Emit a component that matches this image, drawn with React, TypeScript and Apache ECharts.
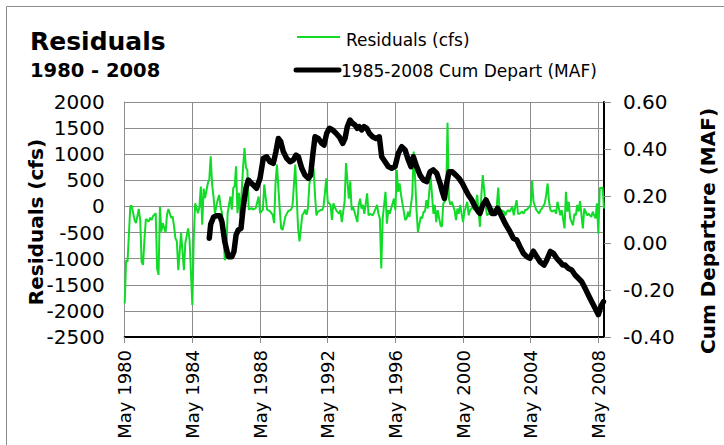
import React, { useEffect, useRef } from "react";
import * as echarts from "echarts";

// Months counted from May 1980 (0 = May 1980)
const xTickMonths = [0, 48, 96, 144, 192, 240, 288, 336];
const xTickLabels = ["May 1980", "May 1984", "May 1988", "May 1992", "May 1996", "May 2000", "May 2004", "May 2008"];

// Residuals (cfs): [month, value]
const residuals: [number, number][] = [
  [0,-1860],[1,-1030],[2,-1060],[4,10],[5,10],[7,-260],[8,-320],[10,-50],[11,-260],[12,-1060],[13,-1120],[14,-640],[15,-240],[17,-290],[18,-220],[19,-260],[20,-190],[22,-130],[23,-1190],[24,-1310],[25,-10],[26,-480],[27,-320],[29,-500],[30,-160],[31,-50],[33,-220],[34,-190],[35,-380],[36,-610],[37,-670],[38,-1220],[40,-510],[42,-1220],[43,-700],[45,-420],[46,-640],[48,-1890],[49,-580],[50,60],[52,-130],[53,-10],[54,380],[55,-350],[56,340],[57,160],[59,450],[60,510],[61,960],[62,420],[63,190],[64,-130],[66,130],[67,220],
  [68,0],[69,-130],[70,-450],[71,-1030],[72,-960],[73,-130],[75,190],[76,-60],[77,350],[78,385],[79,770],[80,-130],[81,260],[82,-190],[84,770],[85,1120],[86,740],[87,700],[88,-60],[90,-30],[91,-60],[93,-30],[95,190],[96,-130],[98,-60],[99,420],[101,-60],[103,-90],[105,-160],[106,-320],[107,450],[108,800],[110,-60],[111,-420],[112,-450],[114,-190],[116,-90],[118,-60],[119,0],[121,800],[122,190],[123,-420],[124,-670],[126,-160],[127,-130],[128,-60],[129,-160],[130,-30],[131,420],[132,580],[134,720],
  [135,220],[136,-170],[137,-100],[139,-70],[140,-70],[141,-10],[142,250],[143,540],[144,90],[146,30],[147,-260],[148,60],[149,-10],[150,-70],[152,-140],[153,-70],[154,-300],[155,-100],[156,90],[157,830],[159,150],[160,480],[161,-70],[162,-10],[163,-100],[165,-300],[166,30],[167,150],[168,-40],[169,30],[170,-140],[172,250],[173,-170],[174,-140],[176,-170],[178,-40],[179,30],[180,-140],[181,-230],[182,-1190],[183,-230],[185,280],[186,-330],[187,-70],[188,-140],[189,-40],[191,150],[192,-70],[193,700],[194,280],[195,440],[196,220],[198,-100],[199,-260],[200,-230],[201,-100],[202,-200],[204,220],[205,1050],[206,540],[207,-70],[208,-490],[210,-200],[211,-230],[212,-100],[213,-100],[214,120],[215,-40],[217,570],[219,-140],[220,30],
  [221,-300],[222,-70],[224,-360],[225,-390],[226,60],[227,90],[228,150],[229,1600],[230,150],[231,30],[232,90],[234,-70],[235,-260],[236,-40],[237,-140],[238,30],[240,-300],[241,-100],[242,-10],[243,90],[244,-170],[245,-70],[247,-10],[248,-70],[249,30],[250,220],[251,-70],[252,-390],[253,220],[254,600],[256,30],[257,-170],[258,-140],[259,-140],[260,-70],[262,-40],[263,-100],[264,30],[265,360],[266,-140],[267,-70],[269,-100],[270,-170],[271,-100],[272,-70],[273,-100],[275,-10],[276,-170],[277,-10],[278,120],[279,-140],[280,-140],[282,-100],[283,-140],[284,-70],[285,-70],[286,-40],[288,30],[289,490],[290,90],[292,-70],[293,-100],[294,-140],[295,-70],[296,-40],[298,60],[299,220],[300,440],[301,90],[302,-70],[303,-100],[305,-70],[306,-140],[307,90],[308,-40],[309,-170],[310,-70],[312,-420],[313,280],[314,-100],[315,90],[316,-230],[318,-360],[319,-140],[320,-170],[321,30],[322,-100],[323,100],[325,-420],[326,-40],[327,-100],[328,-170],[329,-140],[331,-200],[332,-100],[333,-170],[334,-230],[335,60],[336,-520],[337,350],[339,360],[340,-40]
];

// 1985-2008 Cum Depart (MAF): [month, value]
const cumDepart: [number, number][] = [
  [60,0.02],[61,0.08],[63,0.11],[65,0.116],[67.5,0.116],[69,0.09],[71,0.005],[73.5,-0.058],[76,-0.058],[77.5,-0.037],[79,0.034],[80.5,0.055],[82.5,0.062],[84,0.148],[86,0.233],[87.7,0.268],[90,0.254],[93.5,0.233],[96,0.275],[98.3,0.36],[100.7,0.367],[103,0.346],[105.4,0.339],[107.3,0.389],[109,0.445],[110.7,0.431],[112.5,0.389],[114.9,0.36],[117.3,0.346],[119.6,0.353],[121.5,0.374],[123.2,0.367],[125.6,0.318],[127.9,0.289],[130.3,0.275],[131.9,0.289],[133.4,0.374],[135,0.452],[137.3,0.445],[139.8,0.424],[141.4,0.417],[143.3,0.467],[145.2,0.488],[147.5,0.481],[149.9,0.467],[152.2,0.452],[154.7,0.424],[156.3,0.445],[157.9,0.495],[159.8,0.523],[161.7,0.509],[163.4,0.502],[165,0.488],[166.4,0.495],[168.1,0.481],[169.8,0.495],[171.7,0.488],[173.5,0.467],[175.9,0.452],[178.3,0.445],[180.6,0.452],[182.3,0.367],[184.7,0.346],[187,0.325],[189.4,0.318],[191.8,0.325],[194.1,0.382],[196.5,0.41],[198.9,0.396],[201.2,0.353],[203.1,0.325],[204.8,0.367],[207.1,0.325],[209.5,0.289],[211.9,0.268],[214.2,0.261],[216.6,0.303],[218.9,0.311],[221.3,0.297],[223.7,0.254],[225.3,0.218],[226.8,0.19],[228.4,0.254],[230.1,0.303],[232.4,0.303],[234.8,0.289],[237.2,0.275],[239.5,0.254],[241.9,0.226],[243.8,0.204],[246.2,0.183],[248.5,0.155],[250.9,0.133],[252,0.126],[254,0.162],[256.3,0.183],[258.5,0.155],[260.5,0.126],[262.7,0.126],[264.5,0.148],[267,0.119],[269.8,0.084],[273.3,0.048],[275.7,0.02],[278.1,0.013],[280.4,-0.016],[282.8,-0.044],[285.2,-0.058],[287.5,-0.065],[289.9,-0.035],[292.3,-0.058],[294.6,-0.08],[297.5,-0.094],[299.4,-0.072],[302,-0.036],[304.1,-0.044],[306.5,-0.065],[308.8,-0.08],[310.7,-0.094],[312.4,-0.094],[314.7,-0.108],[317.1,-0.115],[319.5,-0.136],[321.8,-0.15],[324.2,-0.165],[326.6,-0.193],[328.9,-0.221],[331.3,-0.25],[333.7,-0.278],[336,-0.305],[337.7,-0.271],[339.6,-0.25]
];

const FONT = "DejaVu Sans";
const GRID = "#8c8c8c";
const GREEN = "#10dc28";

export default function App() {
  const ref = useRef<HTMLDivElement>(null);
  useEffect(() => {
    if (!ref.current) return;
    const chart = echarts.init(ref.current, null, { renderer: "svg" });
    const option: any = {
      animation: false,
      textStyle: { fontFamily: FONT },
      grid: { left: 124.7, right: 120, top: 102, bottom: 108 },
      xAxis: {
        type: "value",
        min: 0,
        max: 340,
        interval: 48,
        axisLine: { show: true, onZero: false, lineStyle: { color: "#000", width: 2 } },
        axisTick: { show: true, length: 6, customValues: xTickMonths, lineStyle: { color: GRID } },
        axisLabel: {
          customValues: xTickMonths,
          rotate: 90,
          margin: 13,
          fontSize: 18,
          fontFamily: FONT,
          color: "#000",
          formatter: (v: number) => {
            const i = xTickMonths.indexOf(Math.round(v));
            return i >= 0 ? xTickLabels[i] : "";
          },
        },
        splitLine: { show: true, lineStyle: { color: GRID, width: 1 } },
      },
      yAxis: [
        {
          type: "value",
          min: -2500,
          max: 2000,
          interval: 500,
          axisLine: { show: true, lineStyle: { color: GRID, width: 1 } },
          axisTick: { show: false },
          axisLabel: {
            fontSize: 20,
            fontFamily: FONT,
            color: "#000",
            margin: 20,
            formatter: (v: number) => String(Math.round(v)),
          },
          splitLine: { show: true, lineStyle: { color: GRID, width: 1 } },
        },
        {
          type: "value",
          position: "right",
          min: -0.4,
          max: 0.6,
          interval: 0.2,
          axisLine: { show: true, lineStyle: { color: "#000", width: 2 } },
          axisTick: { show: true, length: 7, lineStyle: { color: GRID } },
          axisLabel: {
            fontSize: 20,
            fontFamily: FONT,
            color: "#000",
            margin: 19,
            formatter: (v: number) => v.toFixed(2),
          },
          splitLine: { show: false },
        },
      ],
      series: [
        {
          name: "Residuals (cfs)",
          type: "line",
          yAxisIndex: 0,
          data: residuals,
          symbol: "none",
          showSymbol: false,
          lineStyle: { color: GREEN, width: 2 },
          itemStyle: { color: GREEN },
          z: 2,
        },
        {
          name: "1985-2008 Cum Depart (MAF)",
          type: "line",
          yAxisIndex: 1,
          data: cumDepart,
          symbol: "none",
          showSymbol: false,
          lineStyle: { color: "#000", width: 5.5, cap: "round", join: "round" },
          itemStyle: { color: "#000" },
          z: 3,
        },
      ],
      graphic: [
        {
          type: "polyline",
          shape: { points: [[6.5, 445], [6.5, 6.5], [724, 6.5]] },
          style: { stroke: GRID, lineWidth: 1, fill: "none" },
          silent: true,
        },
        {
          type: "text",
          x: 30,
          y: 41,
          style: { text: "Residuals", fontSize: 25, fontWeight: "bold", fontFamily: FONT, fill: "#000", align: "left", verticalAlign: "middle" },
        },
        {
          type: "text",
          x: 30,
          y: 70.5,
          style: { text: "1980 - 2008", fontSize: 19.5, fontWeight: "bold", fontFamily: FONT, fill: "#000", align: "left", verticalAlign: "middle" },
        },
        {
          type: "line",
          shape: { x1: 297, y1: 37, x2: 340, y2: 37 },
          style: { stroke: GREEN, lineWidth: 2 },
        },
        {
          type: "text",
          x: 346,
          y: 40,
          style: { text: "Residuals (cfs)", fontSize: 17, fontFamily: FONT, fill: "#000", align: "left", verticalAlign: "middle" },
        },
        {
          type: "line",
          shape: { x1: 296, y1: 70, x2: 339, y2: 70 },
          style: { stroke: "#000", lineWidth: 5, lineCap: "round" },
        },
        {
          type: "text",
          x: 341,
          y: 71,
          style: { text: "1985-2008 Cum Depart (MAF)", fontSize: 17, fontFamily: FONT, fill: "#000", align: "left", verticalAlign: "middle" },
        },
        {
          type: "text",
          x: 36,
          y: 222,
          rotation: Math.PI / 2,
          style: { text: "Residuals (cfs)", fontSize: 20, fontWeight: "bold", fontFamily: FONT, fill: "#000", align: "center", verticalAlign: "middle" },
        },
        {
          type: "text",
          x: 708,
          y: 231,
          rotation: Math.PI / 2,
          style: { text: "Cum Departure (MAF)", fontSize: 20, fontWeight: "bold", fontFamily: FONT, fill: "#000", align: "center", verticalAlign: "middle" },
        },
      ],
    };
    chart.setOption(option);
    return () => chart.dispose();
  }, []);
  return (
    <div
      ref={ref}
      style={{ position: "fixed", left: 0, top: 0, width: 724, height: 445, background: "#fff" }}
    />
  );
}
